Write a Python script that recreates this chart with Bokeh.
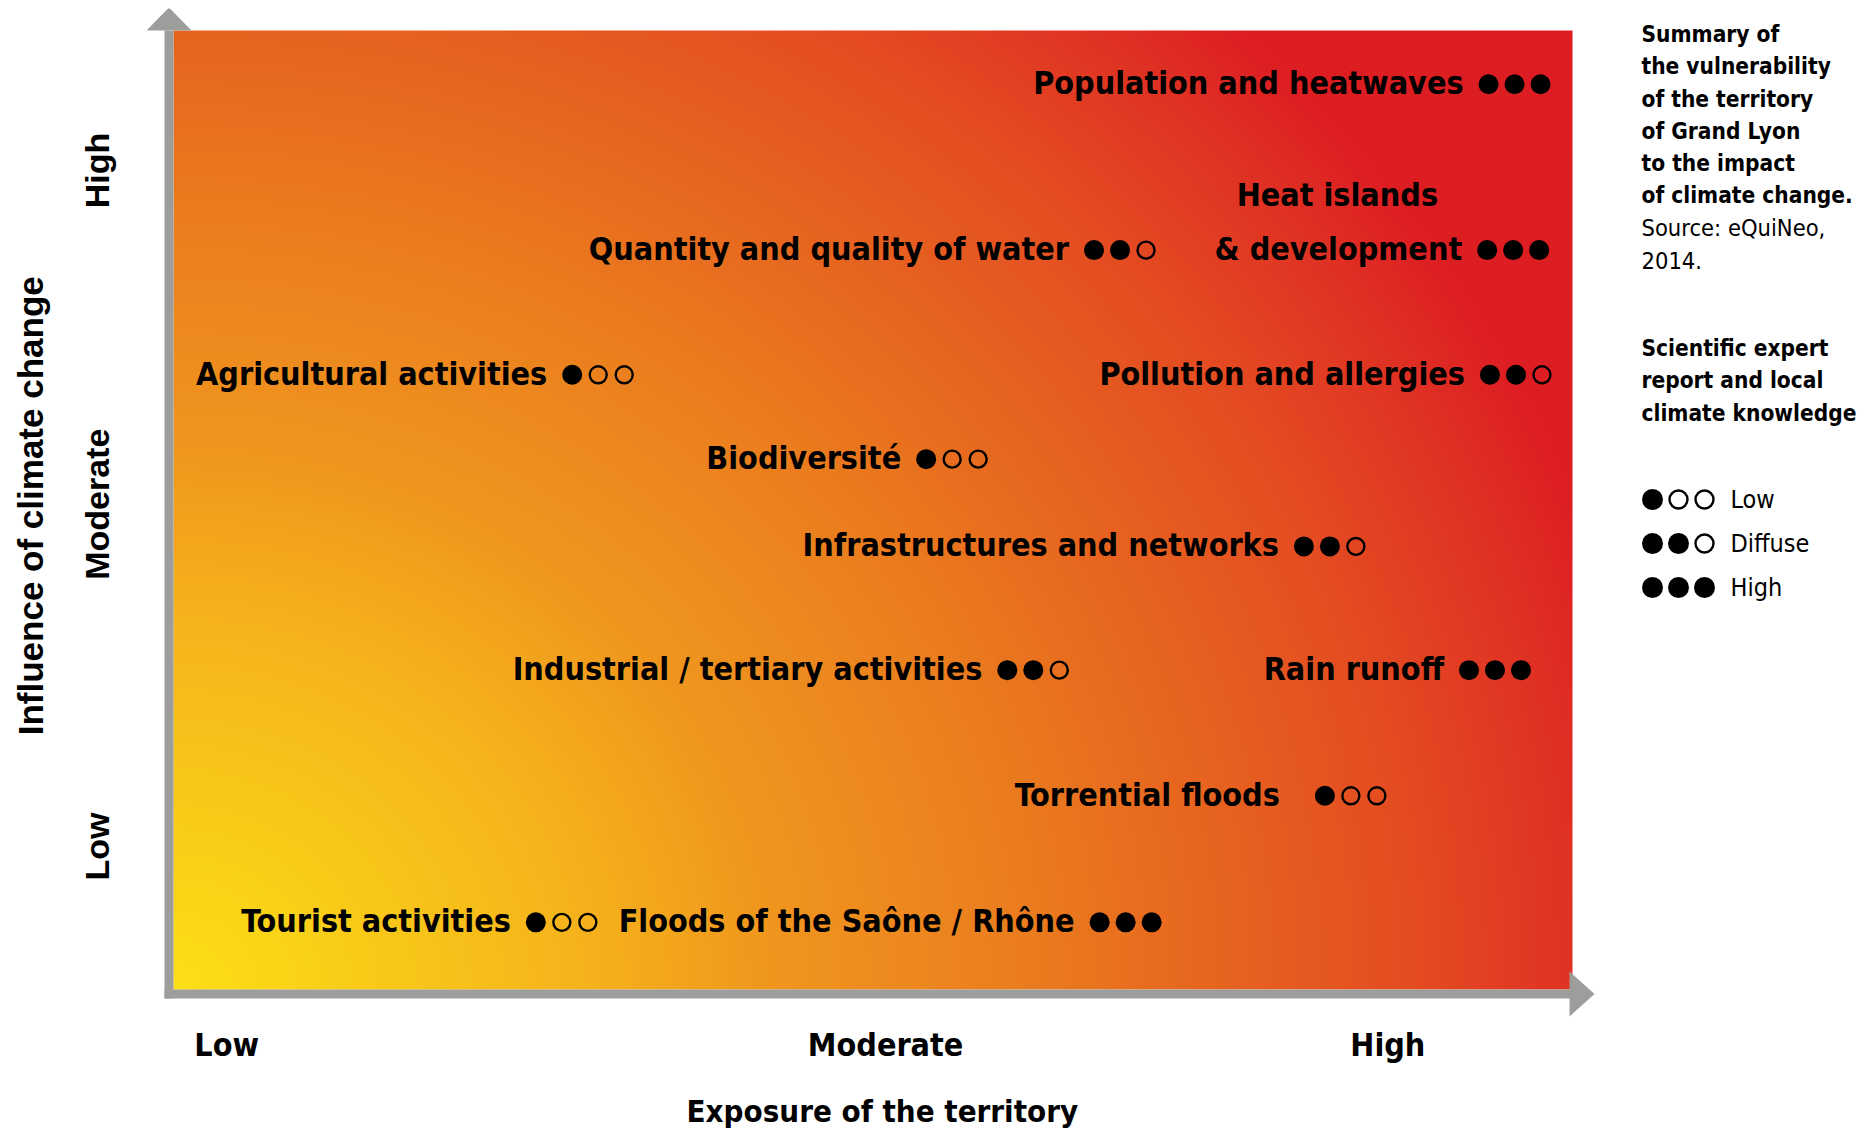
import numpy as np
from bokeh.plotting import figure
from bokeh.models import FixedTicker, Range1d, Title
from bokeh.core.properties import value
from bokeh.embed import file_html
from bokeh.resources import INLINE

# ---------------- data ----------------
items = ["Population and heatwaves", "Heat islands\n& development", "Quantity and quality of water",
         "Agricultural activities", "Pollution and allergies", "Biodiversité",
         "Infrastructures and networks", "Industrial / tertiary activities", "Rain runoff",
         "Torrential floods\u00a0\u00a0", "Tourist activities", "Floods of the Saône / Rhône"]
exposure = [9.40, 9.39, 6.58, 2.85, 9.41, 5.38, 8.08, 5.96, 9.26, 8.23, 2.59, 6.62]
influence = [9.44, 7.71, 7.71, 6.41, 6.41, 5.53, 4.62, 3.33, 3.33, 2.02, 0.70, 0.70]
knowledge = [3, 3, 2, 1, 2, 1, 2, 2, 3, 1, 1, 3]

knowledge_levels = [1, 2, 3]
knowledge_labels = ["Low", "Diffuse", "High"]

x_tick_labels = ["Low", "Moderate", "High"]
x_tick_pos = [0.38, 5.09, 8.68]
y_tick_labels = ["Low", "Moderate", "High"]
y_tick_pos = [1.49, 5.06, 8.54]

x_title = "Exposure of the territory"
y_title = "Influence of climate change"

summary_bold = ["Summary of", "the vulnerability", "of the territory", "of Grand Lyon",
                "to the impact", "of climate change."]
summary_source = ["Source: eQuiNeo,", "2014."]
legend_title = ["Scientific expert", "report and local", "climate knowledge"]

# ---------------- layout ----------------
FRAME_W, FRAME_H = 1725, 1014
PX_X, PX_Y = 139.9, 95.9          # pixels per data unit
LEFT_PAD, BOTTOM_PAD = 33, 33       # frame edge to gradient edge (px)
X_START = -LEFT_PAD / PX_X
Y_START = -BOTTOM_PAD / PX_Y


def dx(px):
    return px / PX_X


def dy(px):
    return px / PX_Y


def ytop(px_from_top):
    # pixel distance below gradient top -> data y
    return 10 - dy(px_from_top)


NARROW_STACK = "'DejaVu Sans Condensed', 'Liberation Sans'"
NARROW = value(NARROW_STACK)

p = figure(frame_width=FRAME_W, frame_height=FRAME_H,
           x_range=Range1d(X_START, X_START + FRAME_W / PX_X),
           y_range=Range1d(Y_START, Y_START + FRAME_H / PX_Y),
           min_border_left=140, min_border_right=0, min_border_top=8, min_border_bottom=0,
           output_backend="svg", toolbar_location=None)
p.xgrid.visible = False
p.ygrid.visible = False
p.outline_line_color = None
p.background_fill_color = "white"
p.border_fill_color = "white"

# ---------------- gradient background ----------------
nx, ny = 700, 480
gx = (np.arange(nx) + 0.5) / nx * 10 * PX_X
gy = (np.arange(ny) + 0.5) / ny * 10 * PX_Y
GX, GY = np.meshgrid(gx, gy)
D = np.sqrt(GX ** 2 + (1.1 * GY) ** 2)
stops_d = [0, 400, 600, 850, 1050, 1250, 1400, 1500, 2200]
stops_r = [252, 246, 240, 235, 231, 228, 224, 221, 220]
stops_g = [224, 180, 150, 125, 100, 75, 50, 30, 26]
stops_b = [22, 28, 30, 30, 32, 34, 36, 35, 34]
img = np.empty((ny, nx), dtype=np.uint32)
view = img.view(dtype=np.uint8).reshape((ny, nx, 4))
view[:, :, 0] = np.interp(D, stops_d, stops_r).astype(np.uint8)
view[:, :, 1] = np.interp(D, stops_d, stops_g).astype(np.uint8)
view[:, :, 2] = np.interp(D, stops_d, stops_b).astype(np.uint8)
view[:, :, 3] = 255
p.image_rgba(image=[img], x=0, y=0, dw=10, dh=10)

# ---------------- grey axes with arrows ----------------
GREY = "#9d9d9c"
ax_x = -dx(4.5)
ax_y = -dy(4.5)
p.segment(x0=[ax_x, -dx(9)], y0=[-dy(9), ax_y], x1=[ax_x, 10], y1=[10, ax_y],
          line_color=GREY, line_width=9, line_cap="butt")
p.patch(x=[ax_x - dx(22.5), ax_x + dx(22.5), ax_x], y=[10, 10, 10 + dy(23)],
        fill_color=GREY, line_color=None)
p.patch(x=[10 - dx(3), 10 - dx(3), 10 + dx(22)], y=[ax_y - dy(22.5), ax_y + dy(22.5), ax_y],
        fill_color=GREY, line_color=None)

# ---------------- items ----------------
DOT_STEP = 26
GAP = 25
FS = 32
TEXT_DY = -1
fx, fy, ox, oy = [], [], [], []
for e, inf, k in zip(exposure, influence, knowledge):
    for j in range(3):
        if j < k:
            fx.append(e + dx(DOT_STEP * j)); fy.append(inf)
        else:
            ox.append(e + dx(DOT_STEP * j)); oy.append(inf)
p.scatter(fx, fy, size=20, marker="circle", fill_color="black", line_color=None)
p.scatter(ox, oy, size=17, marker="circle", fill_color=None, line_color="black", line_width=2.4)

last_lines = [s.split("\n")[-1] for s in items]
p.text(x=exposure, y=influence, text=last_lines, text_align="right", text_baseline="middle",
       x_offset=-GAP, y_offset=TEXT_DY, text_font=NARROW, text_font_style="bold",
       text_font_size=f"{FS}px", text_color="black")
# preceding lines of multi-line labels, centred over the last line
LINE_STEP = 54
for s, e, inf in zip(items, exposure, influence):
    lines = s.split("\n")
    if len(lines) > 1:
        half = len(lines[-1]) * 0.6 * FS / 2
        for j, ln in enumerate(reversed(lines[:-1])):
            p.text(x=[e], y=[inf], text=[ln], text_align="center", text_baseline="middle",
                   x_offset=-(GAP + half), y_offset=TEXT_DY - LINE_STEP * (j + 1), text_font=NARROW,
                   text_font_style="bold", text_font_size=f"{FS}px", text_color="black")

# ---------------- right-hand panel ----------------
PANEL_X = 10 + dx(1641 - 1572)
PFS = "22.5px"
LS = 32.3
row0 = 3.4
bold_y = [ytop(row0 + LS * i) for i in range(len(summary_bold))]
p.text(x=[PANEL_X] * len(summary_bold), y=bold_y, text=summary_bold, text_baseline="middle",
       text_font=NARROW, text_font_style="bold", text_font_size=PFS, text_color="black")
src_y = [ytop(row0 + LS * (len(summary_bold) + i)) for i in range(len(summary_source))]
p.text(x=[PANEL_X] * len(summary_source), y=src_y, text=summary_source, text_baseline="middle",
       text_font=NARROW, text_font_size="23.5px", text_color="black")
lt_y = [ytop(317.6 + LS * i) for i in range(len(legend_title))]
p.text(x=[PANEL_X] * len(legend_title), y=lt_y, text=legend_title, text_baseline="middle",
       text_font=NARROW, text_font_style="bold", text_font_size=PFS, text_color="black")

LEG_DOT_X = PANEL_X + dx(11)
leg_y = [ytop(469 + 44 * i) for i in range(len(knowledge_levels))]
lfx, lfy, lox, loy = [], [], [], []
for lvl, yy in zip(knowledge_levels, leg_y):
    for j in range(3):
        if j < lvl:
            lfx.append(LEG_DOT_X + dx(DOT_STEP * j)); lfy.append(yy)
        else:
            lox.append(LEG_DOT_X + dx(DOT_STEP * j)); loy.append(yy)
p.scatter(lfx, lfy, size=21, marker="circle", fill_color="black", line_color=None)
p.scatter(lox, loy, size=18, marker="circle", fill_color=None, line_color="black", line_width=2.4)
p.text(x=[LEG_DOT_X + dx(DOT_STEP * 2 + 26)] * 3, y=leg_y, text=knowledge_labels,
       text_baseline="middle", text_font=NARROW, text_font_size="25px", text_color="black")

# ---------------- axes ----------------
xa = p.xaxis[0]
xa.ticker = FixedTicker(ticks=x_tick_pos)
xa.major_label_overrides = {t: l for t, l in zip(x_tick_pos, x_tick_labels)}
ya = p.yaxis[0]
ya.ticker = FixedTicker(ticks=y_tick_pos)
ya.major_label_overrides = {t: l for t, l in zip(y_tick_pos, y_tick_labels)}
ya.axis_label = "\u00a0\u00a0" + y_title
ya.major_label_orientation = "vertical"
for ax in (xa, ya):
    ax.axis_line_color = None
    ax.major_tick_line_color = None
    ax.minor_tick_line_color = None
    ax.major_label_text_color = "black"
    ax.axis_label_text_color = "black"
    ax.major_label_text_font_style = "bold"
    ax.axis_label_text_font_style = "bold"
xa.major_label_text_font = NARROW_STACK
xa.major_label_text_font_size = "32px"
xa.major_label_standoff = -3
ya.major_label_text_font = "Liberation Sans"
ya.axis_label_text_font = "Liberation Sans"
ya.major_label_text_font_size = "34px"
ya.axis_label_text_font_size = "35px"
ya.major_label_standoff = 18
ya.axis_label_standoff = 26

# x-axis title, centred under the gradient area rather than under the whole frame
p.add_layout(Title(text=x_title, align="left", offset=546, standoff=48,
                   text_font=NARROW_STACK, text_font_size="31px", text_font_style="bold",
                   text_color="black"), "below")

open("out.html", "w").write(file_html(p, INLINE))
